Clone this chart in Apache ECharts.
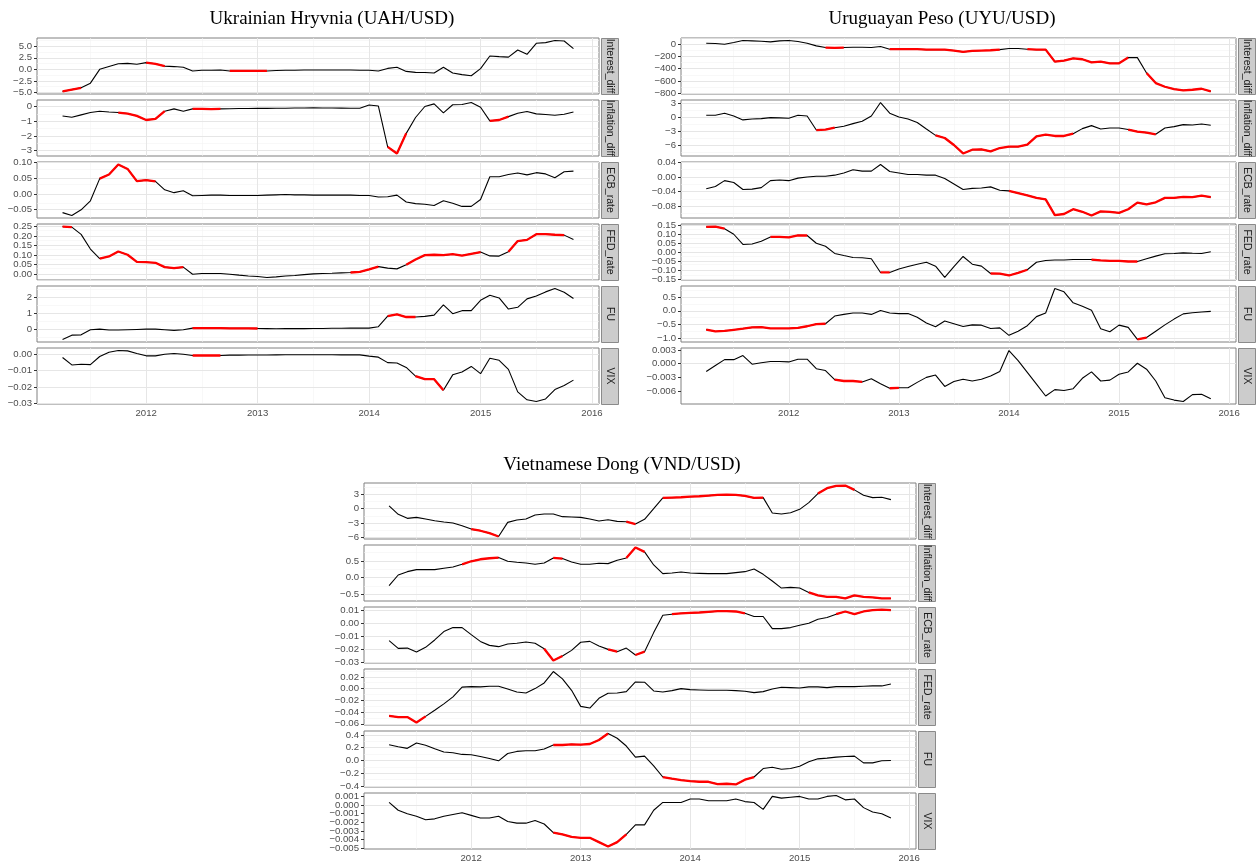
<!DOCTYPE html>
<html>
<head>
<meta charset="utf-8">
<title>Exchange-rate drivers</title>
<script src="https://cdn.jsdelivr.net/npm/echarts@6/dist/echarts.min.js"></script>
<style>
  html, body { margin: 0; padding: 0; background: #ffffff; }
  #chart { width: 1256px; height: 866px; }
</style>
</head>
<body>
<div id="chart"></div>
<script>
// ---------------------------------------------------------------------------
// Monthly observations, April 2011 to November 2015 (56 months)
// ---------------------------------------------------------------------------
const firstYear = 2011;
const firstMonth = 4;           // April
const monthCount = 56;
const facetNames = ['Interest_diff', 'Inflation_diff', 'ECB_rate', 'FED_rate', 'FU', 'VIX'];
const yearTicks = [2012, 2013, 2014, 2015, 2016];

// ---- Ukrainian Hryvnia -----------------------------------------------------
const uahInterest = [-4.8, -4.4, -4.0, -3.0, 0.0, 0.6, 1.2, 1.3, 1.1, 1.45, 1.2, 0.7, 0.6, 0.45, -0.35, -0.2, -0.2, -0.15, -0.35, -0.35, -0.35, -0.35, -0.35, -0.25, -0.2, -0.2, -0.15, -0.15, -0.15, -0.15, -0.15, -0.15, -0.2, -0.2, -0.35, 0.2, 0.45, -0.45, -0.65, -0.7, -0.8, 0.45, -0.8, -1.15, -1.4, 0.15, 2.9, 2.75, 2.65, 4.2, 3.25, 5.65, 5.8, 6.25, 6.15, 4.5];
const uahInflation = [-0.65, -0.73, -0.57, -0.41, -0.32, -0.37, -0.41, -0.48, -0.64, -0.92, -0.85, -0.32, -0.16, -0.32, -0.16, -0.16, -0.18, -0.16, -0.15, -0.14, -0.14, -0.13, -0.13, -0.12, -0.12, -0.1, -0.1, -0.09, -0.1, -0.1, -0.11, -0.12, -0.12, 0.1, 0.03, -2.75, -3.2, -1.83, -0.75, 0.0, 0.18, -0.43, 0.12, 0.14, 0.27, -0.05, -0.98, -0.92, -0.69, -0.46, -0.34, -0.5, -0.55, -0.6, -0.53, -0.37];
const uahECB = [-0.06, -0.069, -0.051, -0.022, 0.049, 0.062, 0.094, 0.08, 0.041, 0.044, 0.04, 0.013, 0.004, 0.01, -0.006, -0.005, -0.004, -0.004, -0.005, -0.005, -0.005, -0.005, -0.004, -0.003, -0.002, -0.003, -0.003, -0.004, -0.004, -0.004, -0.004, -0.004, -0.005, -0.005, -0.01, -0.009, -0.004, -0.026, -0.031, -0.033, -0.037, -0.022, -0.03, -0.04, -0.04, -0.018, 0.055, 0.055, 0.062, 0.067, 0.061, 0.068, 0.064, 0.052, 0.071, 0.073];
const uahFED = [0.25, 0.247, 0.209, 0.132, 0.082, 0.093, 0.119, 0.102, 0.065, 0.063, 0.06, 0.037, 0.032, 0.037, 0.0, 0.004, 0.004, 0.004, 0.0, -0.005, -0.009, -0.012, -0.017, -0.014, -0.009, -0.007, -0.002, 0.002, 0.004, 0.005, 0.007, 0.009, 0.012, 0.025, 0.04, 0.032, 0.028, 0.05, 0.077, 0.1, 0.102, 0.1, 0.105, 0.098, 0.107, 0.116, 0.096, 0.095, 0.118, 0.174, 0.18, 0.21, 0.21, 0.207, 0.205, 0.182];
const uahFU = [-0.63, -0.36, -0.34, -0.02, 0.02, -0.04, -0.04, -0.02, 0.0, 0.02, 0.02, -0.02, -0.06, -0.02, 0.08, 0.08, 0.08, 0.08, 0.07, 0.07, 0.07, 0.06, 0.05, 0.04, 0.05, 0.05, 0.05, 0.06, 0.06, 0.07, 0.07, 0.08, 0.08, 0.08, 0.17, 0.84, 0.95, 0.78, 0.78, 0.82, 0.9, 1.54, 0.99, 1.18, 1.18, 1.83, 2.15, 1.98, 1.28, 1.39, 1.92, 2.1, 2.36, 2.57, 2.34, 1.94];
const uahVIX = [-0.0022, -0.0067, -0.0063, -0.0065, -0.0016, 0.001, 0.002, 0.0018, 0.0002, -0.0012, -0.0012, -0.0002, 0.0002, -0.0002, -0.001, -0.001, -0.001, -0.001, -0.0008, -0.0008, -0.0007, -0.0007, -0.0007, -0.0006, -0.0005, -0.0005, -0.0005, -0.0005, -0.0005, -0.0005, -0.0006, -0.0006, -0.0006, -0.0014, -0.002, -0.0053, -0.0055, -0.0082, -0.0135, -0.0153, -0.0153, -0.022, -0.0127, -0.011, -0.0076, -0.012, -0.0027, -0.0039, -0.0094, -0.023, -0.0278, -0.0288, -0.0273, -0.0216, -0.0192, -0.0159];

// months (first..last index) drawn in red
const uahInterestRed = [[0, 2], [9, 11], [18, 22]];
const uahInflationRed = [[6, 11], [14, 17], [35, 37], [46, 48]];
const uahECBRed = [[4, 10]];
const uahFEDRed = [[0, 1], [4, 13], [31, 34], [37, 45], [48, 54]];
const uahFURed = [[14, 21], [35, 38]];
const uahVIXRed = [[14, 17], [38, 41]];

const uahInterestTicks = ['5.0', '2.5', '0.0', '-2.5', '-5.0'];
const uahInflationTicks = ['0', '-1', '-2', '-3'];
const uahECBTicks = ['0.10', '0.05', '0.00', '-0.05'];
const uahFEDTicks = ['0.25', '0.20', '0.15', '0.10', '0.05', '0.00'];
const uahFUTicks = ['2', '1', '0'];
const uahVIXTicks = ['0.00', '-0.01', '-0.02', '-0.03'];

// ---- Uruguayan Peso --------------------------------------------------------
const uyuInterest = [16, 11, 0, 27, 60, 55, 49, 38, 55, 60, 44, 16, -27, -55, -60, -55, -49, -49, -55, -38, -82, -82, -82, -82, -88, -88, -88, -104, -126, -110, -104, -99, -88, -71, -71, -82, -88, -88, -285, -268, -230, -246, -296, -285, -312, -312, -219, -219, -471, -636, -696, -734, -756, -745, -729, -773];
const uyuInflation = [0.36, 0.36, 0.8, 0.2, -0.64, -0.43, -0.36, -0.14, -0.2, -0.28, 0.36, 0.2, -2.8, -2.7, -2.3, -2.0, -1.43, -0.93, 0.2, 3.07, 0.8, 0.0, -0.43, -1.2, -2.57, -3.93, -4.5, -6.0, -7.8, -7.0, -6.93, -7.36, -6.64, -6.36, -6.36, -5.93, -4.14, -3.79, -4.07, -4.07, -3.57, -2.5, -1.86, -2.57, -2.36, -2.36, -2.7, -3.14, -3.36, -3.71, -2.36, -2.07, -1.64, -1.71, -1.5, -1.79];
const uyuECB = [-0.032, -0.026, -0.01, -0.015, -0.034, -0.033, -0.029, -0.01, -0.008, -0.01, -0.003, 0.0, 0.002, 0.002, 0.005, 0.011, 0.02, 0.016, 0.016, 0.034, 0.015, 0.011, 0.007, 0.007, 0.005, 0.005, -0.004, -0.019, -0.034, -0.031, -0.03, -0.027, -0.036, -0.038, -0.044, -0.05, -0.057, -0.061, -0.104, -0.101, -0.088, -0.095, -0.105, -0.094, -0.095, -0.098, -0.088, -0.07, -0.075, -0.069, -0.057, -0.057, -0.054, -0.055, -0.051, -0.055];
const uyuFED = [0.141, 0.143, 0.131, 0.1, 0.043, 0.046, 0.061, 0.085, 0.085, 0.083, 0.094, 0.093, 0.05, 0.033, -0.007, -0.019, -0.03, -0.031, -0.037, -0.113, -0.113, -0.094, -0.08, -0.067, -0.056, -0.078, -0.141, -0.081, -0.024, -0.067, -0.078, -0.119, -0.12, -0.13, -0.115, -0.098, -0.056, -0.046, -0.044, -0.044, -0.041, -0.041, -0.041, -0.046, -0.048, -0.048, -0.052, -0.052, -0.037, -0.022, -0.009, -0.007, -0.004, -0.006, -0.007, 0.002];
const uyuFU = [-0.68, -0.75, -0.73, -0.69, -0.65, -0.6, -0.59, -0.64, -0.64, -0.64, -0.62, -0.56, -0.48, -0.47, -0.19, -0.13, -0.08, -0.08, -0.13, 0.01, -0.08, -0.1, -0.1, -0.23, -0.44, -0.58, -0.37, -0.47, -0.57, -0.51, -0.52, -0.64, -0.62, -0.89, -0.74, -0.54, -0.21, -0.08, 0.81, 0.69, 0.29, 0.17, 0.02, -0.65, -0.76, -0.52, -0.6, -1.04, -0.97, -0.74, -0.51, -0.3, -0.11, -0.07, -0.04, -0.02];
const uyuVIX = [-0.0017, -0.0004, 0.0009, 0.0009, 0.0018, -0.0001, 0.0002, 0.0005, 0.0005, 0.0004, 0.001, 0.001, -0.0011, -0.0015, -0.0035, -0.0038, -0.0038, -0.004, -0.0033, -0.0044, -0.0054, -0.0053, -0.0053, -0.0041, -0.003, -0.0025, -0.005, -0.0039, -0.0034, -0.0038, -0.0034, -0.0027, -0.0017, 0.0029, 0.0007, -0.0019, -0.0045, -0.0071, -0.0057, -0.0059, -0.0055, -0.0032, -0.0018, -0.0038, -0.0036, -0.0023, -0.0018, 0.0001, -0.0012, -0.0038, -0.0075, -0.008, -0.0083, -0.0068, -0.0067, -0.0077];

const uyuInterestRed = [[13, 15], [20, 32], [35, 46], [48, 55]];
const uyuInflationRed = [[12, 14], [25, 40], [46, 49]];
const uyuECBRed = [[33, 55]];
const uyuFEDRed = [[0, 2], [7, 11], [19, 20], [31, 35], [42, 47]];
const uyuFURed = [[0, 13], [47, 48]];
const uyuVIXRed = [[14, 17], [20, 21]];

const uyuInterestTicks = ['0', '-200', '-400', '-600', '-800'];
const uyuInflationTicks = ['3', '0', '-3', '-6'];
const uyuECBTicks = ['0.04', '0.00', '-0.04', '-0.08'];
const uyuFEDTicks = ['0.15', '0.10', '0.05', '0.00', '-0.05', '-0.10', '-0.15'];
const uyuFUTicks = ['0.5', '0.0', '-0.5', '-1.0'];
const uyuVIXTicks = ['0.003', '0.000', '-0.003', '-0.006'];

// ---- Vietnamese Dong -------------------------------------------------------
const vndInterest = [0.56, -1.19, -2.02, -1.81, -2.16, -2.51, -2.79, -3.0, -3.56, -4.26, -4.6, -5.09, -5.79, -2.86, -2.37, -2.16, -1.33, -1.12, -1.12, -1.67, -1.74, -1.81, -2.16, -2.58, -2.3, -2.65, -2.72, -3.21, -2.23, 0.0, 2.23, 2.3, 2.37, 2.51, 2.58, 2.72, 2.86, 2.93, 2.86, 2.65, 2.23, 2.3, -0.91, -1.12, -0.84, -0.14, 1.26, 3.14, 4.26, 4.75, 4.81, 3.91, 2.79, 2.3, 2.37, 1.88];
const vndInflation = [-0.24, 0.08, 0.18, 0.24, 0.24, 0.24, 0.28, 0.32, 0.4, 0.49, 0.55, 0.58, 0.6, 0.49, 0.46, 0.44, 0.4, 0.44, 0.59, 0.57, 0.47, 0.4, 0.4, 0.43, 0.42, 0.52, 0.59, 0.9, 0.77, 0.38, 0.12, 0.14, 0.17, 0.14, 0.13, 0.12, 0.12, 0.12, 0.15, 0.18, 0.26, 0.1, -0.1, -0.31, -0.29, -0.31, -0.44, -0.53, -0.57, -0.57, -0.62, -0.53, -0.57, -0.59, -0.62, -0.62];
const vndECB = [-0.0132, -0.0192, -0.019, -0.022, -0.0184, -0.0127, -0.0062, -0.0031, -0.0031, -0.0086, -0.0138, -0.0169, -0.0179, -0.0158, -0.0153, -0.0143, -0.0153, -0.0195, -0.0286, -0.0252, -0.0208, -0.0145, -0.0138, -0.0174, -0.02, -0.0218, -0.019, -0.0244, -0.0218, -0.007, 0.0065, 0.0073, 0.008, 0.0083, 0.0086, 0.0091, 0.0096, 0.0096, 0.0094, 0.008, 0.0055, 0.0055, -0.0039, -0.0039, -0.0031, -0.0013, 0.0003, 0.0034, 0.0047, 0.0073, 0.0094, 0.0073, 0.0094, 0.0104, 0.0109, 0.0104];
const vndFED = [-0.0463, -0.0486, -0.0486, -0.0577, -0.0474, -0.037, -0.026, -0.014, 0.0025, 0.0034, 0.003, 0.004, 0.004, -0.0006, -0.0057, -0.0074, 0.0, 0.0097, 0.0291, 0.0166, -0.0029, -0.0303, -0.0331, -0.0166, -0.008, -0.0074, -0.0051, 0.0114, 0.0109, -0.004, -0.0057, -0.0034, 0.0, -0.0017, -0.0023, -0.0029, -0.0029, -0.0029, -0.0034, -0.0046, -0.0069, -0.0051, -0.0006, 0.0023, 0.0017, 0.0011, 0.0029, 0.0029, 0.0017, 0.0034, 0.0034, 0.0034, 0.004, 0.0046, 0.0046, 0.008];
const vndFU = [0.247, 0.216, 0.19, 0.274, 0.237, 0.184, 0.132, 0.121, 0.095, 0.089, 0.063, 0.032, -0.005, 0.11, 0.142, 0.153, 0.153, 0.179, 0.242, 0.242, 0.253, 0.247, 0.258, 0.321, 0.421, 0.347, 0.226, 0.053, 0.068, -0.084, -0.258, -0.284, -0.305, -0.321, -0.332, -0.332, -0.368, -0.363, -0.374, -0.3, -0.258, -0.126, -0.105, -0.137, -0.126, -0.089, -0.021, 0.026, 0.037, 0.053, 0.063, 0.068, -0.037, -0.037, -0.005, 0.0];
const vndVIX = [0.0003, -0.0006, -0.001, -0.0013, -0.0017, -0.0016, -0.0013, -0.0011, -0.0009, -0.0012, -0.0015, -0.0015, -0.0013, -0.0019, -0.0021, -0.0021, -0.0018, -0.0022, -0.0032, -0.0034, -0.0037, -0.0038, -0.0038, -0.0043, -0.0048, -0.0043, -0.0034, -0.0023, -0.0023, -0.0006, 0.0003, 0.0003, 0.0003, 0.0007, 0.0007, 0.0005, 0.0005, 0.0005, 0.0007, 0.0004, 0.0003, -0.0005, 0.001, 0.0008, 0.0009, 0.001, 0.0007, 0.0007, 0.001, 0.0011, 0.0006, 0.0007, -0.0003, -0.0008, -0.001, -0.0015];

const vndInterestRed = [[9, 12], [26, 27], [30, 41], [47, 51]];
const vndInflationRed = [[8, 12], [18, 19], [26, 28], [46, 55]];
const vndECBRed = [[17, 19], [24, 25], [27, 28], [31, 39], [49, 55]];
const vndFEDRed = [[0, 4]];
const vndFURed = [[18, 24], [30, 40]];
const vndVIXRed = [[18, 26]];

const vndInterestTicks = ['3', '0', '-3', '-6'];
const vndInflationTicks = ['0.5', '0.0', '-0.5'];
const vndECBTicks = ['0.01', '0.00', '-0.01', '-0.02', '-0.03'];
const vndFEDTicks = ['0.02', '0.00', '-0.02', '-0.04', '-0.06'];
const vndFUTicks = ['0.4', '0.2', '0.0', '-0.2', '-0.4'];
const vndVIXTicks = ['0.001', '0.000', '-0.001', '-0.002', '-0.003', '-0.004', '-0.005'];

// ---------------------------------------------------------------------------
// Page layout: three faceted panels (two on top, one centred below)
// ---------------------------------------------------------------------------
const FACET_H = 56, FACET_PITCH = 62, STRIP_W = 17, STRIP_GAP = 2, LABEL_GAP = 5;
const SANS = '"Liberation Sans", Arimo, "DejaVu Sans", sans-serif';
const SERIF = '"Liberation Serif", "DejaVu Serif", serif';
const TICK_FONT = '9.6px ' + SANS;

const panels = [
  {
    title: 'Ukrainian Hryvnia (UAH/USD)', titleX: 332, titleY: 19,
    left: 37, right: 599, top: 38,
    values: [uahInterest, uahInflation, uahECB, uahFED, uahFU, uahVIX],
    red: [uahInterestRed, uahInflationRed, uahECBRed, uahFEDRed, uahFURed, uahVIXRed],
    ticks: [uahInterestTicks, uahInflationTicks, uahECBTicks, uahFEDTicks, uahFUTicks, uahVIXTicks]
  },
  {
    title: 'Uruguayan Peso (UYU/USD)', titleX: 942, titleY: 19,
    left: 681, right: 1236, top: 38,
    values: [uyuInterest, uyuInflation, uyuECB, uyuFED, uyuFU, uyuVIX],
    red: [uyuInterestRed, uyuInflationRed, uyuECBRed, uyuFEDRed, uyuFURed, uyuVIXRed],
    ticks: [uyuInterestTicks, uyuInflationTicks, uyuECBTicks, uyuFEDTicks, uyuFUTicks, uyuVIXTicks]
  },
  {
    title: 'Vietnamese Dong (VND/USD)', titleX: 622, titleY: 465,
    left: 364, right: 916, top: 483,
    values: [vndInterest, vndInflation, vndECB, vndFED, vndFU, vndVIX],
    red: [vndInterestRed, vndInflationRed, vndECBRed, vndFEDRed, vndFURed, vndVIXRed],
    ticks: [vndInterestTicks, vndInflationTicks, vndECBTicks, vndFEDTicks, vndFUTicks, vndVIXTicks]
  }
];

// decimal-year position of each month
const monthX = Array.from({ length: monthCount }, (_, i) => firstYear + (firstMonth - 1 + i) / 12);
const xSpan = monthX[monthCount - 1] - monthX[0];
const xMin = monthX[0] - 0.05 * xSpan;
const xMax = monthX[monthCount - 1] + 0.05 * xSpan;
const xMinor = [];
for (let y = Math.floor(xMin); y <= Math.ceil(xMax); y++) {
  if (y + 0.5 > xMin && y + 0.5 < xMax) xMinor.push(y + 0.5);
}

const fmtMinus = s => s.replace('-', '\u2212');

const grids = [], xAxes = [], yAxes = [], series = [], graphics = [];
const yLabelJobs = [];   // y tick labels, placed once the axes exist

panels.forEach(p => {
  graphics.push({
    type: 'text', x: p.titleX, y: p.titleY, z: 10,
    style: { text: p.title, font: '19px ' + SERIF, fill: '#000000', align: 'center', verticalAlign: 'middle' }
  });

  facetNames.forEach((name, k) => {
    const g = grids.length;
    const top = p.top + k * FACET_PITCH;
    const vals = p.values[k];
    const isBottom = k === facetNames.length - 1;

    // free y scale with 5% padding on each side
    const lo = Math.min(...vals), hi = Math.max(...vals);
    const pad = 0.05 * (hi - lo);
    const yMin = lo - pad, yMax = hi + pad;

    const tickVals = p.ticks[k].map(Number);
    const sorted = tickVals.slice().sort((a, b) => a - b);
    const step = sorted.length > 1 ? sorted[1] - sorted[0] : 1;
    const yMinor = sorted.map(v => v - step / 2).concat([sorted[sorted.length - 1] + step / 2])
      .filter(v => v > yMin && v < yMax);

    tickVals.forEach((v, i) => yLabelJobs.push({ g, v, text: fmtMinus(p.ticks[k][i]), x: p.left - LABEL_GAP }));

    grids.push({
      left: p.left, top: top, width: p.right - p.left, height: FACET_H,
      show: true, backgroundColor: '#ffffff', borderColor: '#808080', borderWidth: 1
    });

    xAxes.push({
      gridIndex: g, type: 'value', min: xMin, max: xMax,
      axisLine: { show: false },
      axisTick: { show: isBottom, customValues: yearTicks, length: 3, lineStyle: { color: '#333333', width: 1 } },
      axisLabel: {
        show: isBottom, customValues: yearTicks, formatter: v => String(Math.round(v)), margin: 4,
        showMinLabel: true, showMaxLabel: true,
        fontSize: 9.6, fontFamily: SANS, color: '#4d4d4d'
      },
      splitLine: { show: false }
    });

    yAxes.push({
      gridIndex: g, type: 'value', min: yMin, max: yMax,
      axisLine: { show: false },
      axisTick: { show: true, customValues: tickVals, length: 3, lineStyle: { color: '#333333', width: 1 } },
      axisLabel: { show: false },
      splitLine: { show: false }
    });

    const points = vals.map((v, i) => [monthX[i], v]);
    const inRed = i => p.red[k].some(r => i >= r[0] && i <= r[1]);
    const redPoints = vals.map((v, i) => [monthX[i], inRed(i) ? v : '-']);

    const lineGrid = (v, axis, minor) => ({
      [axis]: v,
      lineStyle: { color: minor ? '#f3f3f3' : '#e6e6e6', width: minor ? 0.6 : 1, type: 'solid' }
    });

    // background grid lines
    series.push({
      type: 'line', xAxisIndex: g, yAxisIndex: g, data: points, symbol: 'none', silent: true,
      lineStyle: { opacity: 0 }, z: 1,
      markLine: {
        silent: true, symbol: ['none', 'none'], animation: false, z: 1,
        label: { show: false }, emphasis: { disabled: true },
        data: [
          ...yMinor.map(v => lineGrid(v, 'yAxis', true)),
          ...xMinor.map(v => lineGrid(v, 'xAxis', true)),
          ...tickVals.map(v => lineGrid(v, 'yAxis', false)),
          ...yearTicks.filter(v => v < xMax).map(v => lineGrid(v, 'xAxis', false))
        ]
      }
    });

    // the series itself, in black
    series.push({
      type: 'line', xAxisIndex: g, yAxisIndex: g, data: points, symbol: 'none', silent: true,
      lineStyle: { color: '#000000', width: 1.1 }, z: 3
    });

    // highlighted stretches, in red
    series.push({
      type: 'line', xAxisIndex: g, yAxisIndex: g, data: redPoints, symbol: 'none', silent: true,
      connectNulls: false, lineStyle: { color: '#ff0000', width: 2.3 }, z: 4
    });

    // facet strip on the right
    const sx = p.right + STRIP_GAP;
    graphics.push({
      type: 'rect', z: 5,
      shape: { x: sx + 0.5, y: top + 0.5, width: STRIP_W, height: FACET_H },
      style: { fill: '#cccccc', stroke: '#8a8a8a', lineWidth: 1 }
    });
    graphics.push({
      type: 'text', z: 6, x: sx + 0.5 + STRIP_W / 2, y: top + FACET_H / 2, rotation: -Math.PI / 2,
      style: { text: name, font: '10.5px ' + SANS, fill: '#1a1a1a', align: 'center', verticalAlign: 'middle' }
    });
  });
});

const chart = echarts.init(document.getElementById('chart'), null, { renderer: 'canvas' });
chart.setOption({
  animation: false,
  backgroundColor: '#ffffff',
  grid: grids,
  xAxis: xAxes,
  yAxis: yAxes,
  series: series,
  graphic: { elements: graphics }
});

// y tick labels: every label is kept, positioned by each facet's y scale
const yLabels = yLabelJobs.map(job => ({
  type: 'text', z: 10, silent: true,
  x: job.x, y: chart.convertToPixel({ yAxisIndex: job.g }, job.v),
  style: { text: job.text, font: TICK_FONT, fill: '#4d4d4d', align: 'right', verticalAlign: 'middle' }
}));
chart.setOption({ graphic: { elements: graphics.concat(yLabels) } });
</script>
</body>
</html>
